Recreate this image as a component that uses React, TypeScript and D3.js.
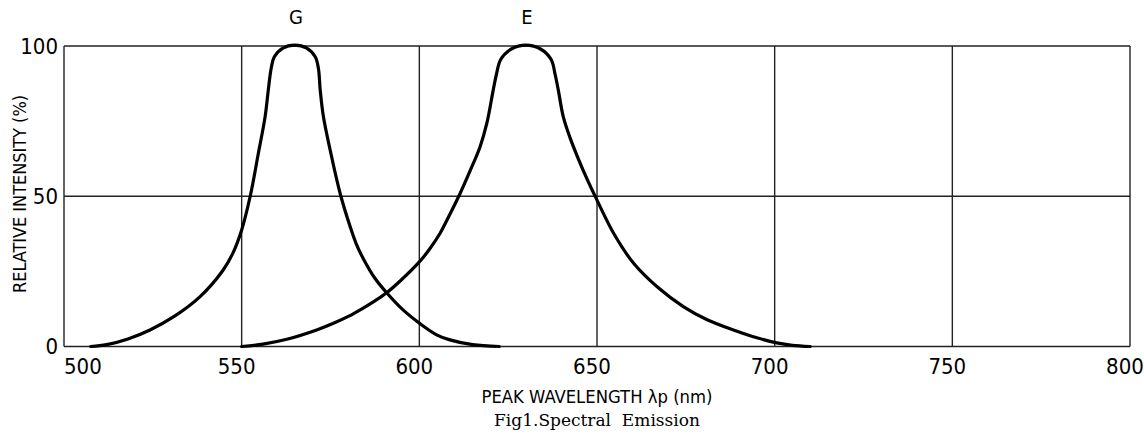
import React from "react";
import * as d3 from "d3";

const xTicks = [500, 550, 600, 650, 700, 750, 800];
const yTicks = [0, 50, 100];

const gWavelength = [507.5, 512, 518, 524.2, 531, 538.3, 544.7, 547.5, 550, 552.4, 554.7, 556.6, 557.5, 558.3, 559.2, 561.6, 564.9, 568.3, 570.7, 571.6, 572.1, 573, 574.9, 577.7, 580.5, 582.3, 584.2, 587.5, 590.8, 595.5, 600.2, 605, 608.6, 615, 622.5];
const gIntensity = [0, 0.6, 2.5, 5.5, 10, 16.6, 25.3, 31, 38.8, 50, 64.3, 76.5, 85.4, 92.5, 96.4, 99.3, 100.3, 99.3, 96.4, 92.5, 85.4, 76.5, 65.4, 51, 40, 34, 29.3, 22.7, 17.9, 12.1, 7.6, 3.8, 2.2, 0.6, 0];

const eWavelength = [550, 556, 563, 571.1, 576, 580, 584.2, 587.5, 590.8, 594.6, 600.2, 603, 605.8, 608.6, 611.5, 614.3, 617.1, 619, 620.8, 621.7, 622.9, 625.9, 630, 634.1, 637.1, 638.2, 639.1, 640.5, 642.4, 644.8, 647.4, 650, 655, 660.3, 667, 674.4, 681, 688.4, 695, 700.6, 705, 710];
const eIntensity = [0, 0.8, 2.5, 5.5, 7.8, 10, 12.8, 15.2, 17.9, 21.8, 28.4, 32.6, 37.6, 44, 51, 58.5, 66.5, 74.3, 85.4, 90.6, 95.5, 99, 100.3, 99, 95.5, 90.6, 85.4, 76.5, 69.5, 62.3, 55.2, 48.7, 37, 27.7, 19.8, 13.2, 8.9, 5.5, 2.9, 1.2, 0.4, 0];

const seriesLabels = [
  { name: "G", peak: 565 },
  { name: "E", peak: 630 },
];

const xTitle = "PEAK WAVELENGTH λp (nm)";
const yTitle = "RELATIVE INTENSITY (%)";
const caption = "Fig1.Spectral  Emission";

const W = 1144;
const H = 434;
const left = 64;
const right = 1130;
const top = 46;
const bottom = 346.5;

const cadFont = "'DejaVu Sans Condensed', 'DejaVu Sans', sans-serif";

export default function App() {
  const x = d3.scaleLinear().domain([500, 800]).range([left, right]);
  const y = d3.scaleLinear().domain([0, 100]).range([bottom, top]);
  const line = d3
    .line<[number, number]>()
    .x((d) => x(d[0]))
    .y((d) => y(d[1]))
    .curve(d3.curveCatmullRom.alpha(0.5));
  const gData = gWavelength.map((w, i) => [w, gIntensity[i]] as [number, number]);
  const eData = eWavelength.map((w, i) => [w, eIntensity[i]] as [number, number]);

  return (
    <svg
      width={W}
      height={H}
      style={{ position: "absolute", left: 0, top: 0, background: "#fff" }}
    >
      <rect x={0} y={0} width={W} height={H} fill="#fff" />
      {xTicks.map((t) => (
        <line key={"gx" + t} x1={x(t)} x2={x(t)} y1={top} y2={bottom} stroke="#222" strokeWidth={1.4} />
      ))}
      {yTicks.map((t) => (
        <line key={"gy" + t} x1={left} x2={right} y1={y(t)} y2={y(t)} stroke="#222" strokeWidth={1.4} />
      ))}
      <path d={line(gData) || ""} fill="none" stroke="#000" strokeWidth={3.2} strokeLinejoin="round" strokeLinecap="round" />
      <path d={line(eData) || ""} fill="none" stroke="#000" strokeWidth={3.2} strokeLinejoin="round" strokeLinecap="round" />
      {xTicks.map((t, i) => (
        <text
          key={"tx" + t}
          x={i === 0 ? x(t) : x(t) - 5}
          y={374}
          textAnchor={i === 0 ? "start" : "middle"}
          fontFamily={cadFont}
          fontSize={22}
          fill="#000"
        >
          {t}
        </text>
      ))}
      {yTicks.map((t) => (
        <text
          key={"ty" + t}
          x={58}
          y={y(t)}
          dy="0.36em"
          textAnchor="end"
          fontFamily={cadFont}
          fontSize={22}
          fill="#000"
        >
          {t}
        </text>
      ))}
      {seriesLabels.map((s) => (
        <text
          key={s.name}
          x={x(s.peak) + 1}
          y={24}
          textAnchor="middle"
          fontFamily={cadFont}
          fontSize={20}
          fill="#000"
        >
          {s.name}
        </text>
      ))}
      <text
        x={597}
        y={403}
        textAnchor="middle"
        fontFamily={cadFont}
        fontSize={18}
        textLength={231}
        lengthAdjust="spacingAndGlyphs"
        fill="#000"
      >
        {xTitle}
      </text>
      <text
        transform={`translate(26,${194}) rotate(-90)`}
        textAnchor="middle"
        fontFamily={cadFont}
        fontSize={18}
        textLength={198}
        lengthAdjust="spacingAndGlyphs"
        fill="#000"
      >
        {yTitle}
      </text>
      <text
        x={597}
        y={426}
        textAnchor="middle"
        fontFamily="'DejaVu Serif', 'Liberation Serif', serif"
        fontSize={17}
        style={{ whiteSpace: "pre" }}
        fill="#000"
      >
        {caption}
      </text>
    </svg>
  );
}
